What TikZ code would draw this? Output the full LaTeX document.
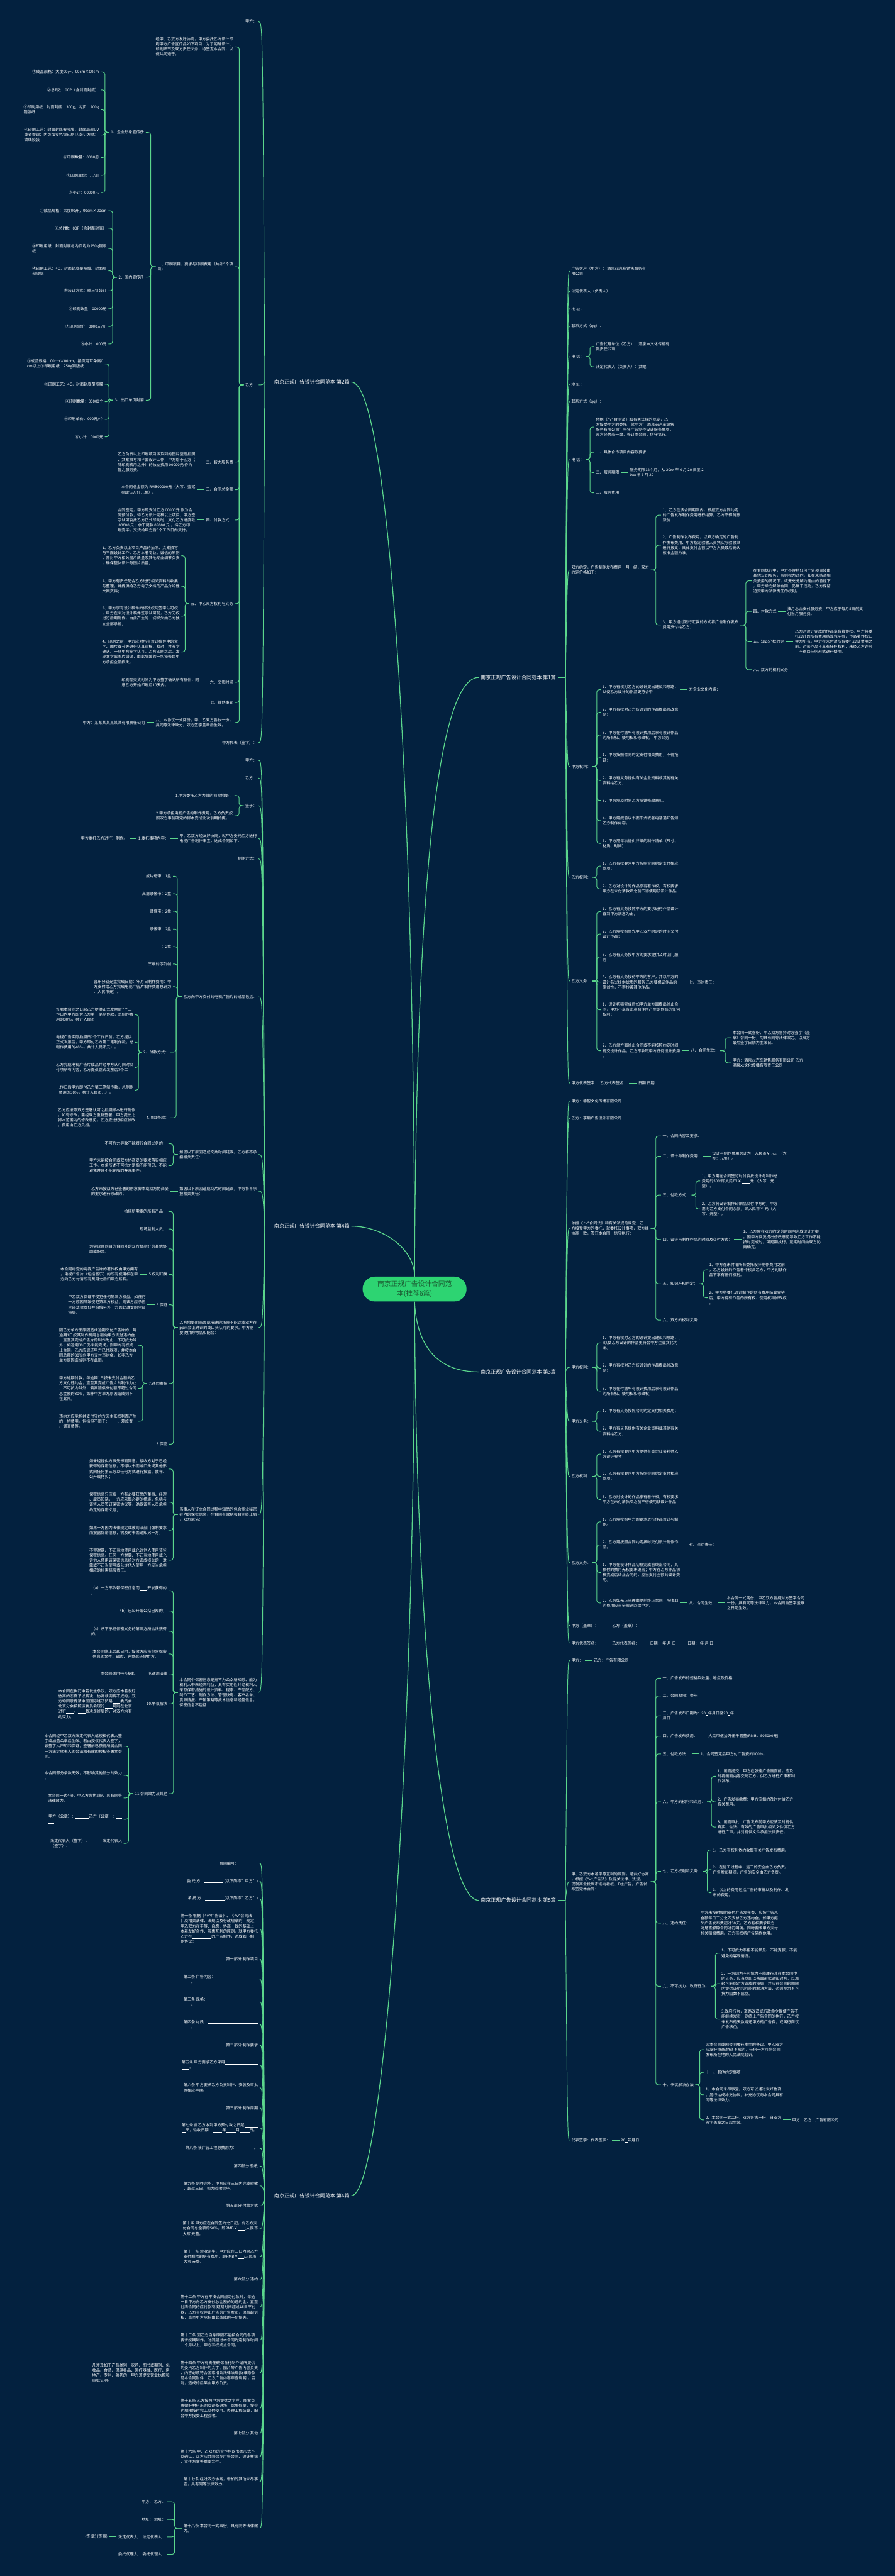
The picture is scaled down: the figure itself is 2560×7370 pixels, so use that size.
\documentclass[tikz,border=0pt]{standalone}
\usepackage{fontspec}
\setmainfont{Noto Sans CJK SC}
\usetikzlibrary{positioning, calc}
\definecolor{mapnavy}{HTML}{03213F}
\definecolor{mapgreen}{HTML}{5BD68C}
\definecolor{rootfill}{HTML}{2DD472}
\definecolor{roottext}{HTML}{1B5C33}
\newcommand\leaffont{\fontsize{3.15pt}{4.15pt}\selectfont}
\newcommand\topicfont{\fontsize{4.15pt}{5pt}\selectfont}
\newcommand\titlefont{\fontsize{5.5pt}{7.6pt}\selectfont}
\newcommand\vv{\textasciicircum v\textasciicircum}
\newcommand\bl[1]{\rule[-0.4pt]{#1em}{0.25pt}}
\tikzset{
  leaf/.style  = {text=white, font=\leaffont, inner sep=0pt, outer xsep=1.4pt, align=left},
  lleaf/.style = {leaf, anchor=east},
  rleaf/.style = {leaf, anchor=west},
  topic/.style = {text=white, font=\topicfont, inner sep=0pt, outer xsep=1.4pt},
  link/.style  = {draw=mapgreen, line width=0.5pt, rounded corners=2pt},
  trunk/.style = {draw=mapgreen, line width=0.65pt},
}
% bracket parent -> child, spine halfway between the two
\newcommand\lbr[2]{\path ($(#1.west)!0.5!(#2.east)$) coordinate (sp);
  \draw[link] (#1.west) -- (#1.west -| sp) |- (#2.east);}
\newcommand\rbr[2]{\path ($(#1.east)!0.5!(#2.west)$) coordinate (sp);
  \draw[link] (#1.east) -- (#1.east -| sp) |- (#2.west);}
% fan from a topic junction to a first-level item
\newcommand\lfan[2]{\draw[link] (#1f) .. controls ($(#1f |- #2.east)+(-6,0)$) .. (#2.east);}
\newcommand\rfan[2]{\draw[link] (#1f) .. controls ($(#1f |- #2.west)+(6,0)$) .. (#2.west);}

\begin{document}
\begin{tikzpicture}[x=0.01cm, y=-0.01cm,
    rootbox/.style={fill=rootfill, text=roottext, font=\titlefont, align=center,
        inner sep=0pt, minimum width=84.5pt, minimum height=20.2pt, rounded corners=10pt}
  ]
  \fill[mapnavy] (0,0) rectangle (2560,7370);
  \useasboundingbox (0,0) rectangle (2560,7370);

  %% --- Root and topics ----------------------------------------------
  \node[rootbox] (root) at (1186,3688) {南京正规广告设计合同范\\本(推荐6篇)};
  \node[topic, anchor=east] (b2) at (1005,1093) {南京正规广告设计合同范本 第2篇};
  \node[topic, anchor=east] (b4) at (1005,3508) {南京正规广告设计合同范本 第4篇};
  \node[topic, anchor=east] (b6) at (1005,6282) {南京正规广告设计合同范本 第6篇};
  \node[topic, anchor=west] (b1) at (1370,1938) {南京正规广告设计合同范本 第1篇};
  \node[topic, anchor=west] (b3) at (1370,3925) {南京正规广告设计合同范本 第3篇};
  \node[topic, anchor=west] (b5) at (1370,5437) {南京正规广告设计合同范本 第5篇};
  \foreach \t in {b2,b4,b6} {\coordinate (\t f) at ($(\t.west)+(-22,0)$);}
  \foreach \t in {b1,b3,b5} {\coordinate (\t f) at ($(\t.east)+(22,0)$);}

  \draw[trunk] (root.north) .. controls (1186,2300) and (1115,1093) .. (b2.east);
  \draw[trunk] (root.north) .. controls (1190,2500) and (1255,1938) .. (b1.west);
  \draw[trunk] (root.north) .. controls (1186,3573) and (1095,3508) .. (b4.east);
  \draw[trunk] (root.south) .. controls (1192,3850) and (1250,3925) .. (b3.west);
  \draw[trunk] (root.south) .. controls (1190,4700) and (1265,5437) .. (b5.west);
  \draw[trunk] (root.south) .. controls (1186,5000) and (1100,6282) .. (b6.east);
  \foreach \t in {b2,b4,b6} {\draw[link] (\t.west) -- (\t f);}
  \foreach \t in {b1,b3,b5} {\draw[link] (\t.east) -- (\t f);}

  %% --- 第2篇: printing contract ---------------------------------------
  \node[lleaf] (b2a) at (740,62) {甲方：};
  \node[lleaf] (b2b) at (740,1101) {乙方：};
  \node[lleaf] (b2c) at (740,2125) {甲方代表（签字）：};

  \node[lleaf] (b2b1) at (672,134) {经甲、乙双方友好协商，甲方委托乙方设计印\\刷甲方广告宣传品如下项目，为了明确设计、\\印刷细节及双方责任义务，特签定本合同，以\\便共同遵守。};
  \node[lleaf] (b2b2) at (672,763) {一、印刷项目、要求与印刷费用（共计5个项\\目）};
  \node[lleaf] (b2b3) at (672,1322) {二、智力服务费};
  \node[lleaf] (b2b4) at (672,1401) {三、合同总金额};
  \node[lleaf] (b2b5) at (672,1488) {四、付款方式：};
  \node[lleaf] (b2b6) at (672,1727) {五、甲乙双方权利与义务};
  \node[lleaf] (b2b7) at (672,1952) {六、交货时间};
  \node[lleaf] (b2b8) at (672,2010) {七、其他事宜};
  \node[lleaf] (b2b9) at (672,2067) {八、本协议一式两份，甲、乙双方各执一份，\\具同等法律效力，双方签字盖章后生效。};

  \node[lleaf] (p1) at (417,379) {1、企业形象宣传册};
  \node[lleaf] (p2) at (417,793) {2、国内宣传册};
  \node[lleaf] (p3) at (417,1145) {3、出口单页封套};

  \node[lleaf] (p1a) at (288,206) {①成品规格：大度00开，00cm×00cm};
  \node[lleaf] (p1b) at (288,257) {②总P数：00P（含封面封底）};
  \node[lleaf] (p1c) at (288,314) {③印刷用纸：封面封底：300g；内页：200g\\铜版纸};
  \node[lleaf] (p1d) at (288,386) {④印刷工艺：封面封底覆哑膜、封面局部UV\\或者烫银；内页加专色银印刷 ⑤装订方式：\\锁线胶装};
  \node[lleaf] (p1e) at (288,451) {⑥印刷数量：0000册};
  \node[lleaf] (p1f) at (288,502) {⑦印刷单价：元/册};
  \node[lleaf] (p1g) at (288,551) {⑧小计：00000元};

  \node[lleaf] (p2a) at (310,603) {①成品规格：大度00开，00cm×00cm};
  \node[lleaf] (p2b) at (310,653) {②总P数：00P（含封面封底）};
  \node[lleaf] (p2c) at (310,711) {③印刷用纸：封面封底与内页均为250g铜版\\纸};
  \node[lleaf] (p2d) at (310,775) {④印刷工艺：4C，封面封底覆哑膜、封面局\\部烫银};
  \node[lleaf] (p2e) at (310,832) {⑤装订方式：骑马钉装订};
  \node[lleaf] (p2f) at (310,883) {⑥印刷数量：00000册};
  \node[lleaf] (p2g) at (310,934) {⑦印刷单价：0000元/册};
  \node[lleaf] (p2h) at (310,984) {⑧小计：000元};

  \node[lleaf] (p3a) at (300,1041) {①成品规格：00cm×00cm，插页用耳朵高0\\cm以上②印刷用纸：250g铜版纸};
  \node[lleaf] (p3b) at (300,1099) {③印刷工艺：4C，封面封底覆哑膜};
  \node[lleaf] (p3c) at (300,1149) {④印刷数量：00000个};
  \node[lleaf] (p3d) at (300,1200) {⑤印刷单价：000元/个};
  \node[lleaf] (p3e) at (300,1250) {⑥小计：0000元};

  \node[lleaf, left=6pt of b2b3] (q3) {乙方负责以上印刷项目涉及到的图片整理拍照\\、文案撰写和平面设计工作，甲方给予乙方（\\除印刷费用之外）的独立费用 00000元 作为\\智力服务费。};
  \node[lleaf, left=6pt of b2b4] (q4) {本合同总金额为 RMB00000元（大写：壹贰\\叁肆伍万仟元整）。};
  \node[lleaf, left=6pt of b2b5] (q5) {合同签定，甲方即支付乙方 00000元 作为合\\同预付款；待乙方设计完稿以上项目，甲方签\\字认可委托乙方正式印刷时，支付乙方进度款\\~00000 元；余下尾款 09000 元 ，待乙方印\\刷完毕，交货给甲方后5个工作日内支付。};
  \node[lleaf, left=6pt of b2b7] (q7) {印刷品交货时间为甲方签字确认所有稿件，同\\意乙方开始印刷后10天内。};
  \node[lleaf, left=6pt of b2b9] (q9) {甲方：某某某某某某某有限责任公司};

  \node[lleaf] (r1) at (519,1590) {1、乙方负责以上项目产品的拍照、文案撰写\\与平面设计工作，乙方本着专业、诚信的原则\\，需对甲方相关图片质量及其他专业细节负责\\，确保整体设计与图片质量；};
  \node[lleaf] (r2) at (519,1677) {2、甲方有责任配合乙方进行相关资料的收集\\与整理，并提供给乙方电子文档的产品介绍性\\文案资料；};
  \node[lleaf] (r3) at (519,1763) {3、甲方享有设计稿件的修改权与签字认可权\\，甲方在未对设计稿件签字认可前，乙方无权\\进行后期制作，由此产生的一切损失由乙方独\\立全部承担；};
  \node[lleaf] (r4) at (519,1865) {4、印刷之前，甲方应对所有设计稿件中的文\\字、图片细节等进行认真审核、校对，并签字\\确认。一旦甲方签字认可，乙方印刷之后，发\\现文字或图片错误，由此导致的一切损失由甲\\方承担全部损失。};

  \foreach \ch in {b2a,b2b,b2c} {\lfan{b2}{\ch}}
  \foreach \ch in {b2b1,b2b2,b2b3,b2b4,b2b5,b2b6,b2b7,b2b8,b2b9} {\lbr{b2b}{\ch}}
  \foreach \ch in {p1,p2,p3} {\lbr{b2b2}{\ch}}
  \foreach \ch in {p1a,p1b,p1c,p1d,p1e,p1f,p1g} {\lbr{p1}{\ch}}
  \foreach \ch in {p2a,p2b,p2c,p2d,p2e,p2f,p2g,p2h} {\lbr{p2}{\ch}}
  \foreach \ch in {p3a,p3b,p3c,p3d,p3e} {\lbr{p3}{\ch}}
  \foreach \ch in {r1,r2,r3,r4} {\lbr{b2b6}{\ch}}
  \draw[link] (b2b3.west) -- (q3.east);
  \draw[link] (b2b4.west) -- (q4.east);
  \draw[link] (b2b5.west) -- (q5.east);
  \draw[link] (b2b7.west) -- (q7.east);
  \draw[link] (b2b9.west) -- (q9.east);

  %% --- 第4篇: TV commercial contract ----------------------------------
  \node[lleaf] (d1) at (740,2175) {甲方：};
  \node[lleaf] (d2) at (740,2226) {乙方：};
  \node[lleaf] (d3) at (740,2305) {鉴于：};
  \node[lleaf] (d4) at (740,2399) {甲、乙双方经友好协商，就甲方委托乙方进行\\电视广告制作事宜，达成合同如下：};
  \node[lleaf] (d5) at (740,2457) {制作方式：};
  \node[lleaf] (d6) at (740,2852) {乙方向甲方交付的电视广告片的成品包括：};
  \node[lleaf] (d7) at (740,3303) {如因以下原因造成交片时间延误，乙方将不承\\担相关责任：};
  \node[lleaf] (d8) at (740,3408) {如因以下原因造成交片时间延误，甲方将不承\\担相关责任：};
  \node[lleaf] (d9) at (740,3798) {乙方拍摄的画面或搭建的场景不能达成双方在\\ppm会上确认的或口头认可的要求。甲方需\\要提供的物品和配合：};
  \node[lleaf] (d10) at (740,4333) {当事人在订立合同过程中知悉的包含商业秘密\\在内的保密信息，在合同有效期和合同终止后\\，双方承诺：};
  \node[lleaf] (d11) at (740,4842) {本合同中保密信息是指不为公众所知悉、能为\\权利人带来经济利益，具有实用性并经权利人\\采取保密措施的设计资料、程序、产品配方、\\制作工艺、制作方法、管理诀窍、客户名单、\\货源情报、产销策略等技术信息和经营信息。\\保密信息不包括：};

  \node[lleaf] (d3a) at (671,2276) {1.甲方委托乙方为其的前期拍摄；};
  \node[lleaf] (d3b) at (671,2334) {2.甲方承担电视广告的制作费用，乙方负责按\\照双方事前确定的脚本完成此次前期拍摄。};
  \node[lleaf, left=6pt of d4] (d4a) {1.委托事项内容：};
  \node[lleaf, left=6pt of d4a] (d4b) {甲方委托乙方进行）制作。};

  \node[lleaf] (d6a) at (495,2507) {成片母带：1盘};
  \node[lleaf] (d6b) at (495,2557) {高清录像带：2盘};
  \node[lleaf] (d6c) at (495,2607) {录像带：2盘};
  \node[lleaf] (d6d) at (495,2658) {录像带：2盘};
  \node[lleaf] (d6e) at (495,2708) {：2盘};
  \node[lleaf] (d6f) at (495,2758) {三维的序列帧};
  \node[lleaf] (d6g) at (495,2823) {音乐分轨光盘完成日期：年月日制作费用：甲\\方支付给乙方完成电视广告片制作费用总计为\\：人民币元）。};
  \node[lleaf] (d6h) at (488,3010) {2、付款方式：};
  \node[lleaf] (d6i) at (488,3198) {4.项目条款：};
  \node[lleaf] (d6h1) at (387,2903) {签署本合同之日起乙方提供正式发票后7个工\\作日内甲方即付乙方第一笔制作款，总制作费\\用的30\%，共计人民币};
  \node[lleaf] (d6h2) at (387,2982) {电视广告实际拍摄日2个工作日前，乙方提供\\正式发票后，甲方即付乙方第二笔制作款，总\\制作费用的40\%，共计人民币元）。};
  \node[lleaf] (d6h3) at (387,3054) {乙方完成电视广告片成品并经甲方认可同时交\\付项所有内容，乙方提供正式发票后7个工};
  \node[lleaf] (d6h4) at (387,3119) {.作日后甲方即付乙方第三笔制作款，总制作\\费用的30\%，共计人民币元）。};
  \node[lleaf, left=6pt of d6i] (d6i1) {乙方应按照双方签署认可之拍摄脚本进行制作\\，如有修改，需经双方重新签署。甲方提出之\\脚本范围内的修改意见，乙方应进行相应修改\\，费用由乙方负担。};

  \node[lleaf] (d7a) at (482,3272) {不可抗力导致不能履行合同义务的；};
  \node[lleaf] (d7b) at (482,3335) {甲方未能按合同或双方协商妥的要求落实相应\\工作。本条所述不可抗力是指不能预见、不能\\避免并且不能克服的客观事件。};
  \node[lleaf, left=6pt of d8] (d8a) {乙方未按双方已签署的创意脚本或双方协商妥\\的要求进行修改的；};

  \node[lleaf] (d9a) at (482,3466) {拍摄所需要的所有产品；};
  \node[lleaf] (d9b) at (482,3516) {现场监制人员；};
  \node[lleaf] (d9c) at (482,3573) {为实现合同目的合同外的双方协商好的其他协\\助或配合。};
  \node[lleaf] (d9d) at (484,3646) {5.权利归属};
  \node[lleaf] (d9e) at (484,3733) {6.保证};
  \node[lleaf] (d9f) at (484,3958) {7.违约责任};
  \node[lleaf] (d9g) at (484,4132) {8.保密};
  \node[lleaf, left=6pt of d9d] (d9d1) {本合同约定的电视广告片的著作权由甲方拥有\\，电视广告片（包括音乐）的所有使用权在甲\\方向乙方付清所有费用之后归甲方所有。};
  \node[lleaf, left=6pt of d9e] (d9e1) {甲乙双方保证不侵犯任何第三方权益。如任何\\一方原因导致侵犯第三方权益，则该方应承担\\全部法律责任并赔偿另外一方因此遭受的全部\\损失。};
  \node[lleaf] (d9f1) at (396,3849) {因乙方单方面原因造成逾期交付广告片的，每\\逾期1日按其制作费用总额向甲方支付违约金\\，直至其完成广告片的制作为止，不可抗力除\\外；如逾期30日仍未能完成，则甲方有权终\\止合同，乙方应退还甲方已付款项，并按本合\\同总额的30\%向甲方支付违约金。如非乙方\\单方原因造成则不在此限。};
  \node[lleaf] (d9f2) at (396,3972) {甲方逾期付款，每逾期1日按未支付金额向乙\\方支付违约金，直至其完成广告片的制作为止\\，不可抗力除外，最高赔偿支付额不超过合同\\总金额的30\%，如非甲方单方原因造成则不\\在此限。};
  \node[lleaf] (d9f3) at (396,4066) {违约方应承担并支付守约方因主张权利而产生\\的一切费用。包括但不限于：\bl{2}、差旅费\\、调查费等。};

  \node[lleaf] (d10a) at (482,4203) {如未经提供方事先书面同意，接收方对于已经\\获得的保密信息，不得以书面或口头或其他形\\式向任何第三方以任何方式进行披露、散布、\\公开或拷贝；};
  \node[lleaf] (d10b) at (482,4298) {保密信息只应被一方有必要获悉的董事、经理\\、雇员知晓，一方应采取必要的措施，包括与\\该些人员签订保密协议等，确保该些人员承担\\约定的保密义务；};
  \node[lleaf] (d10c) at (482,4378) {如果一方因为法律规定或被司法部门强制要求\\而披露保密信息，需及时书面通知另一方；};
  \node[lleaf] (d10d) at (482,4464) {不得泄露、不正当地使用或允许他人使用该些\\保密信息。任何一方泄露、不正当地使用或允\\许他人使用该保密信息给对方造成损失的，泄\\露或不正当使用或允许他人使用一方应当承担\\相应的损害赔偿责任。};

  \node[lleaf] (d11a) at (482,4551) {（a）一方不依赖保密信息而\bl{2}开发获得的\\；};
  \node[lleaf] (d11b) at (482,4609) {（b）已公开或公众已知的；};
  \node[lleaf] (d11c) at (482,4667) {（c）从不承担保密义务的第三方所合法获得\\的。};
  \node[lleaf] (d11d) at (482,4732) {本合同终止后30日内，接收方应将包含保密\\信息的文件、磁盘、光盘返还提供方。};
  \node[lleaf] (d11e) at (484,4789) {9.适用法律};
  \node[lleaf] (d11f) at (484,4875) {10.争议解决};
  \node[lleaf] (d11g) at (484,5132) {11.合同效力及其他};
  \node[lleaf, left=6pt of d11e] (d11e1) {本合同适用\vv 法律。};
  \node[lleaf, left=6pt of d11f] (d11f1) {本合同在执行中若发生争议，双方应本着友好\\协商的态度予以解决，协商或调解不成的，双\\方均同意提请中国国际经济贸易\bl{2}委员会\\北京分会按照该委员会现行\bl{2}规则在北京\\进行\bl{2}。\bl{2}裁决是终局的，对双方均有\\约束力。};
  \node[lleaf] (d11g1) at (354,4996) {本合同经甲乙双方法定代表人或授权代表人签\\字或加盖公章后生效。若由授权代表人签字，\\该签字人声明和保证，签署前已获得所属合同\\一方法定代表人的合法和有效的授权签署本合\\同。};
  \node[lleaf] (d11g2) at (354,5079) {本合同部分条款无效，不影响其他部分的效力\\。};
  \node[lleaf] (d11g3) at (354,5144) {本合同一式4份，甲乙方各执2份，具有同等\\法律效力。};
  \node[lleaf] (d11g4) at (354,5205) {甲方（公章）：\bl{3.5}乙方（公章）：\bl{1.5}\\\bl{1.5}};
  \node[lleaf] (d11g5) at (354,5274) {法定代表人（签字）：\bl{3.5}法定代表人\\（签字）：\bl{3.5}};

  \foreach \ch in {d1,d2,d3,d4,d5,d6,d7,d8,d9,d10,d11} {\lfan{b4}{\ch}}
  \foreach \ch in {d3a,d3b} {\lbr{d3}{\ch}}
  \foreach \ch in {d6a,d6b,d6c,d6d,d6e,d6f,d6g,d6h,d6i} {\lbr{d6}{\ch}}
  \foreach \ch in {d6h1,d6h2,d6h3,d6h4} {\lbr{d6h}{\ch}}
  \foreach \ch in {d7a,d7b} {\lbr{d7}{\ch}}
  \foreach \ch in {d9a,d9b,d9c,d9d,d9e,d9f,d9g} {\lbr{d9}{\ch}}
  \foreach \ch in {d9f1,d9f2,d9f3} {\lbr{d9f}{\ch}}
  \foreach \ch in {d10a,d10b,d10c,d10d} {\lbr{d10}{\ch}}
  \foreach \ch in {d11a,d11b,d11c,d11d,d11e,d11f,d11g} {\lbr{d11}{\ch}}
  \foreach \ch in {d11g1,d11g2,d11g3,d11g4,d11g5} {\lbr{d11g}{\ch}}
  \draw[link] (d4.west) -- (d4a.east);
  \draw[link] (d4a.west) -- (d4b.east);
  \draw[link] (d6i.west) -- (d6i1.east);
  \draw[link] (d8.west) -- (d8a.east);
  \draw[link] (d9d.west) -- (d9d1.east);
  \draw[link] (d9e.west) -- (d9e1.east);
  \draw[link] (d11e.west) -- (d11e1.east);
  \draw[link] (d11f.west) -- (d11f1.east);

  %% --- 第6篇: production agreement ------------------------------------
  \node[lleaf] (f1) at (743,5331) {合同编号：\bl{5}};
  \node[lleaf] (f2) at (743,5382) {委 托 方：\bl{5} (以下简称"甲方")};
  \node[lleaf] (f3) at (743,5432) {承 托 方：\bl{5}(以下简称"乙方")};
  \node[lleaf] (f4) at (743,5518) {第一条 根据《\vv 广告法》、《\vv 合同法\\》及相关法律、法规以及行政规章的'规定，\\甲乙双方在平等、自愿、协商一致的基础上，\\本着友好合作、互惠互利的原则，就甲方委托\\乙方在\bl{5}的广告制作，达成如下制\\作协议：};
  \node[lleaf] (f5) at (743,5605) {第一部分 制作项目};
  \node[lleaf] (f6) at (743,5663) {第二条 广告内容：\bl{11}\\\bl{2}。};
  \node[lleaf] (f7) at (743,5727) {第三条 规格：\bl{13}\\\bl{2}。};
  \node[lleaf] (f8) at (743,5792) {第四条 材质：\bl{13}\\\bl{2}。};
  \node[lleaf] (f9) at (743,5851) {第二部分 制作要求};
  \node[lleaf] (f10) at (743,5908) {第五条 甲方要求乙方采用\bl{8.5}\\\bl{2}。};
  \node[lleaf] (f11) at (743,5973) {第六条 甲方要求乙方负责制作、安装及审批\\等相应手续。};
  \node[lleaf] (f12) at (743,6031) {第三部分 制作周期};
  \node[lleaf] (f13) at (743,6088) {第七条 自乙方收到甲方预付款之日起\bl{3.5}\\\bl{1}天，验收日期：\bl{2.5}年\bl{2.5}月\bl{2.5}日。};
  \node[lleaf] (f14) at (743,6146) {第八条 该广告工程总费用为：\bl{4.5}。};
  \node[lleaf] (f15) at (743,6197) {第四部分 验收};
  \node[lleaf] (f16) at (743,6254) {第九条 制作完毕，甲方应在三日内完成验收\\，超过三日，视为验收完毕。};
  \node[lleaf] (f17) at (743,6311) {第五部分 付款方式};
  \node[lleaf] (f18) at (743,6376) {第十条 甲方应在合同签约之日起，向乙方支\\付合同总金额的50\%，即RMB￥\bl{2};人民币\\大写 元整。};
  \node[lleaf] (f19) at (743,6456) {第十一条 验收完毕，甲方应在三日内向乙方\\支付剩余的所有费用，即RMB￥\bl{1.5};人民币\\大写 元整。};
  \node[lleaf] (f20) at (743,6521) {第六部分 违约};
  \node[lleaf] (f21) at (743,6601) {第十二条 甲方在不按合同规定付款时，每逾\\一日甲方向乙方支付总金额的的违约金，直至\\付清合同的应付款项.延期时间超过15日不付\\款，乙方有权停止广告的广告发布，保留起诉\\权，直至甲方承担由此造成的一切损失。};
  \node[lleaf] (f22) at (743,6695) {第十三条 因乙方自身原因不能按合同的各项\\要求按期制作，时间超过本合同约定制作时间\\一个月以上，甲方有权终止合同。};
  \node[lleaf] (f23) at (743,6789) {第十四条 甲方有责任确保自行制作或所提供\\的委托乙方制作的文字、图片等广告内容负责\\、内容必须符合国家相关法律法规(详细条款\\见本合同附件：乙方广告内容审查说明)，否\\则，造成的后果由甲方负责。};
  \node[lleaf] (f24) at (743,6890) {第十五条 乙方按照甲方提供之字样、图案负\\责做好材料采购及设备进场，保质保量，按合\\约期限按时完工交付使用。办理工程结算，配\\合甲方接受工程验收。};
  \node[lleaf] (f25) at (743,6962) {第七部分 其他};
  \node[lleaf] (f26) at (743,7028) {第十六条 甲、乙双方的合作均以书面形式予\\以确认，双方应共同保存广告合同、设计样稿\\、宣传方案等重要文件。};
  \node[lleaf] (f27) at (743,7100) {第十七条 经过双方协商，增加的其他未尽事\\宜，具有同等法律效力。};
  \node[lleaf] (f28) at (743,7233) {第十八条 本合同一式四份，具有同等法律效\\力。};

  \node[lleaf, left=6pt of f23] (f23a) {凡涉及如下产品类别：农药、图书或期刊、化\\妆品、食品、保健补品、医疗器械、医疗、房\\地产、专利、兽药的，甲方须提交营业执照和\\审批证明。};
  \node[lleaf] (f28a) at (479,7158) {甲方：~乙方：};
  \node[lleaf] (f28b) at (479,7208) {地址：~地址：};
  \node[lleaf] (f28c) at (479,7258) {法定代表人：~法定代表人：};
  \node[lleaf] (f28d) at (479,7308) {委托代理人：~委托代理人：};
  \node[lleaf, left=6pt of f28c] (f28c1) {(签 章) (签章)};

  \foreach \ch in {f1,f2,f3,f4,f5,f6,f7,f8,f9,f10,f11,f12,f13,f14,f15,f16,f17,f18,f19,f20,f21,f22,f23,f24,f25,f26,f27,f28} {\lfan{b6}{\ch}}
  \foreach \ch in {f28a,f28b,f28c,f28d} {\lbr{f28}{\ch}}
  \draw[link] (f23.west) -- (f23a.east);
  \draw[link] (f28c.west) -- (f28c1.east);

  %% --- 第1篇: annual design service -----------------------------------
  \node[rleaf] (a1) at (1630,776) {广告客户（甲方）：~酒泉xx汽车销售服务有\\限公司};
  \node[rleaf] (a2) at (1630,833) {法定代表人（负责人）：};
  \node[rleaf] (a3) at (1630,883) {地 址：};
  \node[rleaf] (a4) at (1630,933) {联系方式（qq）：};
  \node[rleaf] (a5) at (1630,1020) {电 话：};
  \node[rleaf] (a6) at (1630,1099) {地 址：};
  \node[rleaf] (a7) at (1630,1149) {联系方式（qq）：};
  \node[rleaf] (a8) at (1630,1315) {电 话：};
  \node[rleaf] (a9) at (1630,1631) {双方约定，广告制作发布费用一月一结，双方\\约定价格如下：};
  \node[rleaf] (a10) at (1630,2193) {甲方权利：};
  \node[rleaf] (a11) at (1630,2510) {乙方权利：};
  \node[rleaf] (a12) at (1630,2807) {乙方义务：};
  \node[rleaf] (a13) at (1630,3099) {甲方代表签字：~~乙方代表签名：};

  \node[rleaf] (a5a) at (1700,991) {广告代理单位（乙方）：酒泉xx文化传播有\\限责任公司};
  \node[rleaf] (a5b) at (1700,1049) {法定代表人（负责人）：武鲲};
  \node[rleaf] (a8a) at (1700,1222) {依据《\vv 合同法》和有关法规的规定，乙\\方接受甲方的委托，就甲方" 酒泉xx汽车销售\\服务有限公司"全年广告制作设计服务事项，\\双方经协商一致，签订本合同，信守执行。};
  \node[rleaf] (a8b) at (1700,1294) {一、具体合作项目内容及要求};
  \node[rleaf] (a8c) at (1700,1352) {二、服务期限};
  \node[rleaf] (a8d) at (1700,1410) {三、服务费用};
  \node[rleaf, right=6pt of a8c] (a8c1) {服务期限12个月，从 20xx 年 6 月 20 日至 2\\0xx 年 6 月 20};

  \node[rleaf] (a9a) at (1891,1474) {1、乙方在该合同期限内，根据双方合同约定\\的广告发布制作费用进行结算，乙方不得随意\\涨价};
  \node[rleaf] (a9b) at (1891,1560) {2、广告制作发布费用，以双方确定的广告制\\作发布费用、甲方指定验收人员凭实际验收单\\进行报支，具体支付金额以甲方人员最后确认\\核准金额为准；};
  \node[rleaf] (a9c) at (1891,1788) {3、甲方通过银行汇款的方式将广告制作发布\\费用支付给乙方；};
  \node[rleaf] (a9c1) at (2150,1662) {在合同执行中，甲方不得将任何广告项目转由\\其他公司服务，否则视为违约。如在未结清相\\关费用的情况下，或无充分解约理由的前提下\\，甲方单方解除合同，仍属于违约，乙方保留\\追究甲方法律责任的权利。};
  \node[rleaf] (a9c2) at (2150,1749) {四、付款方式};
  \node[rleaf] (a9c3) at (2150,1836) {五、知识产权约定};
  \node[rleaf] (a9c4) at (2150,1916) {六、双方的权利义务};
  \node[rleaf, right=6pt of a9c2] (a9c2a) {按月总合支付服务费，甲方应于每月5日前支\\付当月服务费。};
  \node[rleaf, right=6pt of a9c3] (a9c3a) {乙方对设计完成的作品享有著作权。甲方将委\\托设计的所有费用结算完毕后，作品著作权归\\甲方所有。甲方在未付清所有委托设计费用之\\前，对该作品不享有任何权利，未经乙方许可\\，不得以任何形式进行使用。};

  \node[rleaf] (a10a) at (1719,1973) {1、甲方有权对乙方的设计提出建议和思路，\\以使乙方设计的作品更符合甲};
  \node[rleaf] (a10b) at (1719,2038) {2、甲方有权对乙方所设计的作品提出修改意\\见；};
  \node[rleaf] (a10c) at (1719,2103) {3、甲方在付清所有设计费用后享有设计作品\\的所有权、使用权和修改权。 甲方义务：};
  \node[rleaf] (a10d) at (1719,2168) {1、甲方按照合同约定支付相关费用，不得拖\\延；};
  \node[rleaf] (a10e) at (1719,2233) {2、甲方有义务提供有关企业资料或其他有关\\资料给乙方；};
  \node[rleaf] (a10f) at (1719,2290) {3、甲方需及时向乙方反馈修改意见。};
  \node[rleaf] (a10g) at (1719,2348) {4、甲方需提前以书面形式或者电话通知告知\\乙方制作内容。};
  \node[rleaf] (a10h) at (1719,2413) {5、甲方需每次提供详细的制作清单（尺寸、\\材质、时间）};
  \node[rleaf, right=6pt of a10a] (a10a1) {方企业文化内涵；};
  \node[rleaf] (a11a) at (1719,2478) {1、乙方有权要求甲方按照合同约定支付相应\\款项；};
  \node[rleaf] (a11b) at (1719,2543) {2、乙方对设计的作品享有著作权，有权要求\\甲方在未付清款项之前不得使用该设计作品。};
  \node[rleaf] (a12a) at (1719,2608) {1、乙方有义务按照甲方的要求进行作品设计\\直到甲方满意为止；};
  \node[rleaf] (a12b) at (1719,2672) {2、乙方需按照事先甲乙双方约定的时间交付\\设计作品；};
  \node[rleaf] (a12c) at (1719,2738) {3、乙方有义务按甲方的要求提供及时上门服\\务};
  \node[rleaf] (a12d) at (1719,2810) {4、乙方有义务接待甲方的客户，并以甲方的\\设计名义提供优质的服务 乙方要保证作品的\\原创性，不得抄袭其他作品。};
  \node[rleaf] (a12e) at (1719,2889) {1、设计初稿完成后如甲方单方面提出终止合\\同，甲方不享有此次合作所产生的作品的任何\\权利；};
  \node[rleaf] (a12f) at (1719,3006) {2、乙方单方面终止合同或不能按照约定时间\\提交设计作品，乙方不收取甲方任何设计费用\\。};
  \node[rleaf, right=6pt of a12d] (a12d1) {七、违约责任：};
  \node[rleaf, right=6pt of a12f] (a12f1) {八、合同生效：};
  \node[rleaf] (a12g) at (2091,2969) {本合同一式叁份，甲乙双方各持对方签字（盖\\章）合同一份，均具有同等法律效力。以双方\\最后签字日期为生效日。};
  \node[rleaf] (a12h) at (2091,3041) {甲方：酒泉xx汽车销售服务有限公司 乙方：\\酒泉xx文化传播有限责任公司};
  \node[rleaf, right=6pt of a13] (a13a) {日期 日期};

  \foreach \ch in {a1,a2,a3,a4,a5,a6,a7,a8,a9,a10,a11,a12,a13} {\rfan{b1}{\ch}}
  \foreach \ch in {a5a,a5b} {\rbr{a5}{\ch}}
  \foreach \ch in {a8a,a8b,a8c,a8d} {\rbr{a8}{\ch}}
  \foreach \ch in {a9a,a9b,a9c} {\rbr{a9}{\ch}}
  \foreach \ch in {a9c1,a9c2,a9c3,a9c4} {\rbr{a9c}{\ch}}
  \foreach \ch in {a10a,a10b,a10c,a10d,a10e,a10f,a10g,a10h} {\rbr{a10}{\ch}}
  \foreach \ch in {a11a,a11b} {\rbr{a11}{\ch}}
  \foreach \ch in {a12a,a12b,a12c,a12d,a12e,a12f} {\rbr{a12}{\ch}}
  \foreach \ch in {a12g,a12h} {\rbr{a12f1}{\ch}}
  \draw[link] (a8c.east) -- (a8c1.west);
  \draw[link] (a9c2.east) -- (a9c2a.west);
  \draw[link] (a9c3.east) -- (a9c3a.west);
  \draw[link] (a10a.east) -- (a10a1.west);
  \draw[link] (a12d.east) -- (a12d1.west);
  \draw[link] (a12f.east) -- (a12f1.west);
  \draw[link] (a13.east) -- (a13a.west);

  %% --- 第3篇: design commission --------------------------------------
  \node[rleaf] (c1) at (1630,3150) {甲方：睿智文化传播有限公司};
  \node[rleaf] (c2) at (1630,3200) {乙方：李熊广告设计有限公司};
  \node[rleaf] (c3) at (1630,3514) {依据《\vv 合同法》和有关法规的规定，乙\\方接受甲方的委托，就委托设计事项，双方经\\协商一致，签订本合同，信守执行：};
  \node[rleaf] (c4) at (1630,3912) {甲方权利：};
  \node[rleaf] (c5) at (1630,4066) {甲方义务：};
  \node[rleaf] (c6) at (1630,4224) {乙方权利：};
  \node[rleaf] (c7) at (1630,4471) {乙方义务：};
  \node[rleaf] (c8) at (1630,4651) {甲方（盖章）：\hspace{3.5em}乙方（盖章）：};
  \node[rleaf] (c9) at (1630,4701) {甲方代表签名：\hspace{3.5em}乙方代表签名：};
  \node[rleaf, right=6pt of c9] (c9a) {日期：~年 月 日\hspace{3em}日期：~年 月 日};

  \node[rleaf] (c3a) at (1891,3250) {一、合同内容及要求：};
  \node[rleaf] (c3b) at (1891,3308) {二、设计与制作费用：};
  \node[rleaf] (c3c) at (1891,3419) {三、付款方式：};
  \node[rleaf] (c3d) at (1891,3546) {四、设计与制作作品的时间及交付方式：};
  \node[rleaf] (c3e) at (1891,3673) {五、知识产权约定：};
  \node[rleaf] (c3f) at (1891,3777) {六、双方的权利义务：};
  \node[rleaf, right=6pt of c3b] (c3b1) {设计与制作费用总计为：人民币￥ 元，（大\\写：元整）。};
  \node[rleaf, right=6pt of c3d] (c3d1) {1、乙方需在双方约定的时间内完成设计方案\\。因甲方反复提出修改意见导致乙方工作不能\\按时完成时，可延期执行，延期时间由双方协\\商确定。};
  \node[rleaf] (c3c1) at (2003,3379) {1、甲方需在合同签订时付委托设计与制作总\\费用的50\%即人民币 ￥ \bl{2}元 （大写：元\\整）。};
  \node[rleaf] (c3c2) at (2003,3459) {2、乙方将设计制作印刷品交付甲方时，甲方\\需向乙方支付合同余款，即人民币￥ 元（大\\写：元整）。};
  \node[rleaf] (c3e1) at (2024,3633) {1、甲方在未付清所有委托设计制作费用之前\\，乙方设计的作品着作权归乙方，甲方对该作\\品不享有任何权利。};
  \node[rleaf] (c3e2) at (2024,3713) {2、甲方将委托设计制作的所有费用结算完毕\\后，甲方拥有作品的所有权、使用权和修改权\\。};

  \node[rleaf] (c4a) at (1719,3842) {1、甲方有权对乙方的设计提出建议和思路，(\\)以使乙方设计的作品更符合甲方企业文化内\\涵。};
  \node[rleaf] (c4b) at (1719,3914) {2、甲方有权对乙方所设计的作品提出修改意\\见；};
  \node[rleaf] (c4c) at (1719,3980) {3、甲方在付清所有设计费用后享有设计作品\\的所有权、使用权和修改权；};
  \node[rleaf] (c5a) at (1719,4037) {1、甲方有义务按照合同约定支付相关费用；};
  \node[rleaf] (c5b) at (1719,4095) {2、甲方有义务提供有关企业资料或其他有关\\资料给乙方；};
  \node[rleaf] (c6a) at (1719,4160) {1、乙方有权要求甲方提供有关企业资料供乙\\方设计参考；};
  \node[rleaf] (c6b) at (1719,4224) {2、乙方有权要求甲方按照合同约定支付相应\\款项；};
  \node[rleaf] (c6c) at (1719,4290) {3、乙方对设计的作品享有着作权，有权要求\\甲方在未付清款项之前不得使用该设计作品：};
  \node[rleaf] (c7a) at (1719,4354) {1、乙方需按照甲方的要求进行作品设计与制\\作。};
  \node[rleaf] (c7b) at (1719,4420) {2、乙方需按照合同约定按时交付设计制作作\\品。};
  \node[rleaf] (c7c) at (1719,4499) {1、甲方在设计作品初稿完成前终止合同，其\\预付的费用无权要求退回；甲方在乙方作品初\\稿完成后终止合同的，应当支付全额的设计费\\用。};
  \node[rleaf] (c7d) at (1719,4586) {2、乙方如无正当理由提前终止合同，所收取\\的费用应当全部退回给甲方。};
  \node[rleaf, right=6pt of c7b] (c7b1) {七、违约责任：};
  \node[rleaf, right=6pt of c7d] (c7d1) {八、合同生效：};
  \node[rleaf, right=6pt of c7d1] (c7d2) {本合同一式两份，甲乙双方各持对方签字合同\\一份，具有同等法律效力。本合同自签字盖章\\之日起生效。};

  \foreach \ch in {c1,c2,c3,c4,c5,c6,c7,c8,c9} {\rfan{b3}{\ch}}
  \foreach \ch in {c3a,c3b,c3c,c3d,c3e,c3f} {\rbr{c3}{\ch}}
  \foreach \ch in {c3c1,c3c2} {\rbr{c3c}{\ch}}
  \foreach \ch in {c3e1,c3e2} {\rbr{c3e}{\ch}}
  \foreach \ch in {c4a,c4b,c4c} {\rbr{c4}{\ch}}
  \foreach \ch in {c5a,c5b} {\rbr{c5}{\ch}}
  \foreach \ch in {c6a,c6b,c6c} {\rbr{c6}{\ch}}
  \foreach \ch in {c7a,c7b,c7c,c7d} {\rbr{c7}{\ch}}
  \draw[link] (c3b.east) -- (c3b1.west);
  \draw[link] (c3d.east) -- (c3d1.west);
  \draw[link] (c7b.east) -- (c7b1.west);
  \draw[link] (c7d.east) -- (c7d1.west);
  \draw[link] (c7d1.east) -- (c7d2.west);
  \draw[link] (c9.east) -- (c9a.west);

  %% --- 第5篇: billboard publishing -----------------------------------
  \node[rleaf] (e1) at (1630,4751) {甲方：};
  \node[rleaf] (e2) at (1630,5384) {甲、乙双方本着平等互利的原则，经友好协商\\，根据《\vv 广告法》及有关法律、法规，\\现就商业批发市场内看板、F柱广告，广告发\\布签定本合同：};
  \node[rleaf] (e3) at (1630,6123) {代表签字：代表签字：};
  \node[rleaf, right=6pt of e1] (e1a) {乙方：广告有限公司};
  \node[rleaf, right=6pt of e3] (e3a) {20\bl{0.6}年月日};

  \node[rleaf] (e2a) at (1891,4801) {一、广告发布的规格及数量、地点及价格：};
  \node[rleaf] (e2b) at (1891,4852) {二、合同期限：壹年};
  \node[rleaf] (e2c) at (1891,4909) {三、广告发布日期为：20\bl{0.6}年月日至20\bl{0.6}年\\月日};
  \node[rleaf] (e2d) at (1891,4967) {四、广告发布费用：};
  \node[rleaf] (e2e) at (1891,5018) {五、付款方法：};
  \node[rleaf] (e2f) at (1891,5155) {六、甲方的权利和义务：};
  \node[rleaf] (e2g) at (1891,5354) {七、乙方权利和义务：};
  \node[rleaf] (e2h) at (1891,5502) {八、违约责任：};
  \node[rleaf] (e2i) at (1891,5683) {九、不可抗力、政府行为。};
  \node[rleaf] (e2j) at (1891,5965) {十、争议解决办法};
  \node[rleaf, right=6pt of e2d] (e2d1) {人民币伍拾万伍千圆整(RMB：505000元)};
  \node[rleaf, right=6pt of e2e] (e2e1) {1、合同签定后甲方付广告费的100\%。};
  \node[rleaf, right=6pt of e2h] (e2h1) {甲方未按时如期支付广告发布费，应按广告总\\金额每日千分之四支付乙方违约金，如甲方拖\\欠广告发布费超过30天，乙方有权要求甲方\\对是否解除合同进行明确。同时要求甲方支付\\相关赔偿费用。乙方有权将广告另作他用。};

  \node[rleaf] (e2f1) at (2048,5082) {1、画面提交：甲方在张挂广告画面前，应及\\时将画面内容交与乙方，供乙方进行广审和制\\作发布。};
  \node[rleaf] (e2f2) at (2048,5155) {2、广告发布缴费：甲方应如约及时付给乙方\\有关费用。};
  \node[rleaf] (e2f3) at (2048,5227) {3、画面审批：广告发布前甲方应该及时提供\\真实、合法、有效的广告审批相关文件供乙方\\进行广审，并对提供文件承担法律责任。};
  \node[rleaf] (e2g1) at (2035,5293) {1、乙方有权利依约收取有关广告发布费用。};
  \node[rleaf] (e2g2) at (2035,5349) {2、在施工过程中，施工的安全由乙方负责。\\广告发布期间，广告的安全由乙方负责。};
  \node[rleaf] (e2g3) at (2035,5415) {3、以上的费用包括广告的审批以及制作、发\\布的费用。};
  \node[rleaf] (e2i1) at (2059,5588) {1、不可抗力系指不能预见、不能克服、不能\\避免的客观情况。};
  \node[rleaf] (e2i2) at (2059,5675) {2、一方因为不可抗力不能履行其在本合同中\\的义务，应当立即以书面形式通知对方，以减\\轻可能给对方造成的损失，并应在合同的期限\\内提供证明和可能的解决方法，否则视为不可\\抗力因数不成立。};
  \node[rleaf] (e2i3) at (2059,5777) {3.政府行为，道路改造或行政命令致使广告不\\能继续发布，则终止广告合同的执行，乙方按\\未发布的天数返还甲方的广告费，或另行商议\\广告移位。};
  \node[rleaf] (e2j1) at (2014,5864) {因本合同或因合同履行发生的争议，甲乙双方\\应友好协商;协商不成的，任何一方可向合同\\发布所在地的人民法院起诉。};
  \node[rleaf] (e2j2) at (2014,5929) {十一、其他约定事项};
  \node[rleaf] (e2j3) at (2014,5993) {1、本合同未尽事宜，双方可以通过友好协商\\，另行达成补充协议，补充协议与本合同具有\\同等法律效力。};
  \node[rleaf] (e2j4) at (2014,6065) {2、本合同一式二份，双方各执一份，自双方\\签字盖章之日起生效。};
  \node[rleaf, right=6pt of e2j4] (e2j4a) {甲方：乙方：广告有限公司};

  \foreach \ch in {e1,e2,e3} {\rfan{b5}{\ch}}
  \foreach \ch in {e2a,e2b,e2c,e2d,e2e,e2f,e2g,e2h,e2i,e2j} {\rbr{e2}{\ch}}
  \foreach \ch in {e2f1,e2f2,e2f3} {\rbr{e2f}{\ch}}
  \foreach \ch in {e2g1,e2g2,e2g3} {\rbr{e2g}{\ch}}
  \foreach \ch in {e2i1,e2i2,e2i3} {\rbr{e2i}{\ch}}
  \foreach \ch in {e2j1,e2j2,e2j3,e2j4} {\rbr{e2j}{\ch}}
  \draw[link] (e1.east) -- (e1a.west);
  \draw[link] (e3.east) -- (e3a.west);
  \draw[link] (e2d.east) -- (e2d1.west);
  \draw[link] (e2e.east) -- (e2e1.west);
  \draw[link] (e2h.east) -- (e2h1.west);
  \draw[link] (e2j4.east) -- (e2j4a.west);
\end{tikzpicture}
\end{document}
